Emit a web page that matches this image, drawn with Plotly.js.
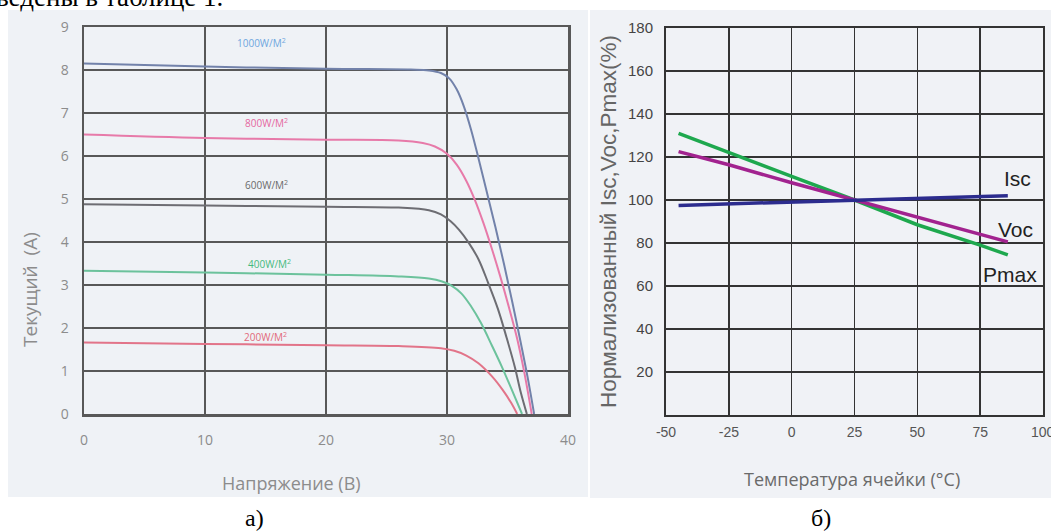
<!DOCTYPE html>
<html>
<head>
<meta charset="utf-8">
<script src="https://cdn.plot.ly/plotly-3.0.1.min.js"></script>
<style>html,body{margin:0;padding:0;background:#fff;}#chart{width:1051px;height:532px;}</style>
</head>
<body>
<div id="chart"></div>
<script>
// ---- Data: left chart (I-V curves) ----
const irrLabels = ['1000W/M<sup>2</sup>', '800W/M<sup>2</sup>', '600W/M<sup>2</sup>', '400W/M<sup>2</sup>', '200W/M<sup>2</sup>'];
const V1000 = [0, 10, 20, 27, 28.5, 29.5, 30.2, 30.8, 31.4, 32, 32.6, 33.3, 34, 34.7, 35.4, 36.1, 36.7, 37.2];
const I1000 = [8.15, 8.08, 8.03, 8.01, 7.99, 7.93, 7.8, 7.55, 7.15, 6.6, 5.95, 5.15, 4.35, 3.5, 2.6, 1.65, 0.8, 0];
const V800 = [0, 10, 20, 26, 28, 29, 30, 30.8, 31.6, 32.3, 33, 33.7, 34.4, 35.1, 35.8, 36.4, 37.0];
const I800 = [6.5, 6.42, 6.38, 6.36, 6.3, 6.22, 6.05, 5.8, 5.42, 4.98, 4.45, 3.85, 3.2, 2.5, 1.75, 0.95, 0];
const V600 = [0, 10, 20, 26, 28.5, 29.5, 30.3, 31, 31.8, 32.6, 33.4, 34.2, 34.9, 35.6, 36.1, 36.6];
const I600 = [4.88, 4.85, 4.82, 4.8, 4.74, 4.64, 4.48, 4.28, 3.98, 3.6, 3.05, 2.45, 1.8, 1.1, 0.5, 0];
const V400 = [0, 10, 20, 26, 28.5, 29.6, 30.4, 31.2, 32.0, 32.8, 33.7, 34.5, 35.3, 36.2];
const I400 = [3.33, 3.29, 3.24, 3.2, 3.15, 3.08, 2.98, 2.8, 2.5, 2.12, 1.6, 1.12, 0.6, 0];
const V200 = [0, 10, 20, 26, 29.5, 30.6, 31.6, 32.6, 33.7, 34.6, 35.3, 35.8];
const I200 = [1.66, 1.63, 1.6, 1.58, 1.53, 1.47, 1.36, 1.18, 0.88, 0.56, 0.26, 0];
const leftXTicks = [0, 10, 20, 30, 40];
const leftYTicks = [0, 1, 2, 3, 4, 5, 6, 7, 8, 9];

// ---- Data: right chart (temperature coefficients) ----
const tempIsc = [-45, 25, 86];
const valIsc = [97.5, 100, 102];
const tempVoc = [-45, -25, 0, 25, 50, 75, 86];
const valVoc = [122.5, 116.4, 108, 100, 91.8, 84, 80.5];
const tempPmax = [-45, -25, 0, 25, 50, 75, 86];
const valPmax = [131, 122, 111, 100, 88.5, 79, 74.5];
const rightXTicks = [-50, -25, 0, 25, 50, 75];
const rightXTickText = ['-50', '-25', '0', '25', '50', '75'];
const rightLastTick = 100;
const rightYTicks = [20, 40, 60, 80, 100, 120, 140, 160, 180];

// ---- Layout helpers (pixel -> paper) ----
const W = 1051, H = 532;
const px = v => v / W;
const py = v => 1 - v / H;

const ivColors = ['#7282aa', '#e77aa9', '#6d6d73', '#6cc29c', '#e27489'];
const labelColors = ['#6ea6de', '#e5679f', '#6a6a6a', '#45b97d', '#e2697a'];

function ivTrace(x, y, c) {
  return {x: x, y: y, xaxis: 'x', yaxis: 'y', mode: 'lines',
    line: {color: c, width: 2, shape: 'spline', smoothing: 1}, hoverinfo: 'skip', showlegend: false};
}
function tTrace(x, y, c) {
  return {x: x, y: y, xaxis: 'x2', yaxis: 'y2', mode: 'lines',
    line: {color: c, width: 3.5}, hoverinfo: 'skip', showlegend: false};
}

const data = [
  ivTrace(V1000, I1000, ivColors[0]),
  ivTrace(V800, I800, ivColors[1]),
  ivTrace(V600, I600, ivColors[2]),
  ivTrace(V400, I400, ivColors[3]),
  ivTrace(V200, I200, ivColors[4]),
  tTrace(tempPmax, valPmax, '#1ea84e'),
  tTrace(tempVoc, valVoc, '#a2238f'),
  tTrace(tempIsc, valIsc, '#2c2c8e')
];

const leftGrid = '#585858';
const rightGrid = '#333333';

const layout = {
  width: W, height: H,
  margin: {l: 0, r: 0, t: 0, b: 0, pad: 0},
  paper_bgcolor: '#ffffff',
  plot_bgcolor: 'rgba(0,0,0,0)',
  showlegend: false,
  xaxis: {
    domain: [px(84), px(568)], range: [0, 40], anchor: 'y',
    tickvals: leftXTicks, ticks: '', ticklabelstandoff: 12,
    showgrid: true, gridcolor: leftGrid, gridwidth: 2,
    showline: true, linecolor: leftGrid, linewidth: 2.5, mirror: true, zeroline: false,
    tickfont: {family: 'Open Sans', size: 14, color: '#8c8c8c'}
  },
  yaxis: {
    domain: [py(414), py(27)], range: [0, 9], anchor: 'x',
    tickvals: leftYTicks, ticks: '', ticklabelstandoff: 10,
    showgrid: true, gridcolor: leftGrid, gridwidth: 2,
    showline: true, linecolor: leftGrid, linewidth: 2.5, mirror: true, zeroline: false,
    tickfont: {family: 'Open Sans', size: 14, color: '#8c8c8c'}
  },
  xaxis2: {
    domain: [px(666), px(1043)], range: [-50, 100], anchor: 'y2',
    tickvals: rightXTicks.concat([rightLastTick]), ticktext: rightXTickText.concat(['']), ticks: '', ticklabelstandoff: 3,
    showgrid: true, gridcolor: rightGrid, gridwidth: 1.5,
    showline: true, linecolor: rightGrid, linewidth: 2, mirror: true, zeroline: false,
    tickfont: {family: 'Liberation Sans', size: 14, color: '#555'}
  },
  yaxis2: {
    domain: [py(415), py(28)], range: [0, 180], anchor: 'x2',
    tickvals: rightYTicks, ticks: '', ticklabelstandoff: 8,
    showgrid: true, gridcolor: rightGrid, gridwidth: 1.5,
    showline: true, linecolor: rightGrid, linewidth: 2, mirror: true, zeroline: false,
    tickfont: {family: 'Liberation Sans', size: 15, color: '#444'},
    title: {text: 'Нормализованный Isc,Voc,Pmax(%)', standoff: 5,
      font: {family: 'Liberation Sans', size: 22.5, color: '#666'}}
  },
  shapes: [
    {type: 'rect', xref: 'paper', yref: 'paper', x0: px(8), x1: px(588), y0: py(497), y1: py(10),
      fillcolor: '#eff2f6', line: {width: 0}, layer: 'below'},
    {type: 'rect', xref: 'paper', yref: 'paper', x0: px(590), x1: px(1051), y0: py(498), y1: py(10),
      fillcolor: '#f0f2f6', line: {width: 0}, layer: 'below'}
  ],
  annotations: [
    {text: 'ведены в таблице 1.', xref: 'paper', yref: 'paper', x: px(-6), y: py(14),
      xanchor: 'left', yanchor: 'bottom', showarrow: false,
      font: {family: 'Liberation Serif', size: 27, color: '#000'}},
    {text: '100', xref: 'x2', yref: 'paper', x: rightLastTick, y: py(432),
      xanchor: 'center', yanchor: 'middle', showarrow: false,
      font: {family: 'Liberation Sans', size: 14, color: '#555'}},
    {text: 'а)', xref: 'paper', yref: 'paper', x: px(254), y: py(518),
      xanchor: 'center', yanchor: 'middle', showarrow: false,
      font: {family: 'Liberation Serif', size: 24, color: '#000'}},
    {text: 'б)', xref: 'paper', yref: 'paper', x: px(821), y: py(518),
      xanchor: 'center', yanchor: 'middle', showarrow: false,
      font: {family: 'Liberation Serif', size: 24, color: '#000'}},
    {text: 'Напряжение (В)', xref: 'paper', yref: 'paper', x: px(291), y: py(483),
      xanchor: 'center', yanchor: 'middle', showarrow: false,
      font: {family: 'Open Sans', size: 18, color: '#8c8c8c'}},
    {text: 'Текущий  (А)', xref: 'paper', yref: 'paper', x: px(30), y: py(290), textangle: -90,
      xanchor: 'center', yanchor: 'middle', showarrow: false,
      font: {family: 'Open Sans', size: 19, color: '#8c8c8c'}},
    {text: 'Температура ячейки (°C)', xref: 'paper', yref: 'paper', x: px(852), y: py(479),
      xanchor: 'center', yanchor: 'middle', showarrow: false,
      font: {family: 'Open Sans', size: 18, color: '#6a6a6a'}},
    {text: 'Isc', xref: 'x2', yref: 'y2', x: 90, y: 110, xanchor: 'center', yanchor: 'middle', showarrow: false,
      font: {family: 'Liberation Sans', size: 21, color: '#222'}},
    {text: 'Voc', xref: 'x2', yref: 'y2', x: 89, y: 86.5, xanchor: 'center', yanchor: 'middle', showarrow: false,
      font: {family: 'Liberation Sans', size: 21, color: '#222'}},
    {text: 'Pmax', xref: 'x2', yref: 'y2', x: 87, y: 65.5, xanchor: 'center', yanchor: 'middle', showarrow: false,
      font: {family: 'Liberation Sans', size: 21, color: '#222'}},
    {text: irrLabels[0], xref: 'x', yref: 'y', x: 14.7, y: 8.62, showarrow: false, xanchor: 'center', yanchor: 'middle',
      font: {family: 'Open Sans', size: 10, color: labelColors[0]}},
    {text: irrLabels[1], xref: 'x', yref: 'y', x: 15.1, y: 6.77, showarrow: false, xanchor: 'center', yanchor: 'middle',
      font: {family: 'Open Sans', size: 10, color: labelColors[1]}},
    {text: irrLabels[2], xref: 'x', yref: 'y', x: 15.1, y: 5.32, showarrow: false, xanchor: 'center', yanchor: 'middle',
      font: {family: 'Open Sans', size: 10, color: labelColors[2]}},
    {text: irrLabels[3], xref: 'x', yref: 'y', x: 15.3, y: 3.49, showarrow: false, xanchor: 'center', yanchor: 'middle',
      font: {family: 'Open Sans', size: 10, color: labelColors[3]}},
    {text: irrLabels[4], xref: 'x', yref: 'y', x: 15.0, y: 1.78, showarrow: false, xanchor: 'center', yanchor: 'middle',
      font: {family: 'Open Sans', size: 10, color: labelColors[4]}}
  ]
};

Plotly.newPlot('chart', data, layout, {displayModeBar: false, staticPlot: true});
</script>
</body>
</html>
